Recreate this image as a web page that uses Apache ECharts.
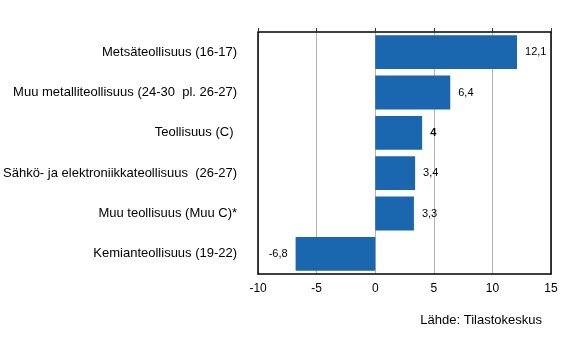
<!DOCTYPE html>
<html><head><meta charset="utf-8">
<script src="https://cdn.jsdelivr.net/npm/echarts@6/dist/echarts.min.js"></script>
<style>html,body{margin:0;padding:0;background:#fff}#c{width:566px;height:361px}</style>
</head><body><div id="c"></div>
<script>
var categories = ["Metsäteollisuus (16-17)", "Muu metalliteollisuus (24-30  pl. 26-27)", "Teollisuus (C) ", "Sähkö- ja elektroniikkateollisuus  (26-27)", "Muu teollisuus (Muu C)*", "Kemianteollisuus (19-22)"];
var values = [12.1, 6.4, 4, 3.4, 3.3, -6.8];
var boldIndex = 2;
var tickMin = -10, tickMax = 15, tickStep = 5;
var sourceText = "Lähde: Tilastokeskus";

var chart = echarts.init(document.getElementById('c'), null, {renderer: 'canvas'});
var font = "Liberation Sans, Arial, sans-serif";
chart.setOption({
  animation: false,
  grid: {left: 258, right: 15, top: 32, bottom: 87},
  xAxis: [{
    type: 'value', min: tickMin, max: tickMax, interval: tickStep, position: 'bottom',
    axisLine: {show: true, onZero: false, lineStyle: {color: '#000', width: 1.5}},
    axisTick: {show: false},
    splitLine: {show: true, lineStyle: {color: '#b4b4b4', width: 1}},
    axisLabel: {color: '#000', fontFamily: font, fontSize: 12, margin: 9,
      formatter: function (v) { return String(v); }}
  }, {
    type: 'value', min: tickMin, max: tickMax, interval: tickStep, position: 'top',
    axisLine: {show: true, onZero: false, lineStyle: {color: '#000', width: 1.5}},
    axisTick: {show: true, inside: false, length: 4, lineStyle: {color: '#333'}},
    splitLine: {show: false},
    axisLabel: {show: false}
  }],
  yAxis: [{
    type: 'category', data: categories, inverse: true,
    axisLine: {show: true, onZero: false, lineStyle: {color: '#000', width: 1.5}},
    axisTick: {show: false},
    axisLabel: {color: '#000', fontFamily: font, fontSize: 13, margin: 21}
  }, {
    type: 'category', data: categories, inverse: true, position: 'right',
    axisLine: {show: true, onZero: false, lineStyle: {color: '#000', width: 1.5}},
    axisTick: {show: false},
    axisLabel: {show: false}
  }],
  series: [{
    type: 'bar', xAxisIndex: 0, yAxisIndex: 0,
    data: values.map(function (v, i) {
      return {value: v, label: {position: v < 0 ? 'left' : 'right',
        fontWeight: i === boldIndex ? 'bold' : 'normal'}};
    }),
    barCategoryGap: '16%',
    itemStyle: {color: '#1a67b0'},
    label: {show: true, distance: 8, color: '#000', fontFamily: font, fontSize: 11,
      formatter: function (p) { return String(p.value).replace('.', ','); }}
  }],
  graphic: [{
    type: 'text', right: 24, top: 314,
    style: {text: sourceText, fill: '#000', font: '13px ' + font, textAlign: 'right'}
  }]
});
</script></body></html>
